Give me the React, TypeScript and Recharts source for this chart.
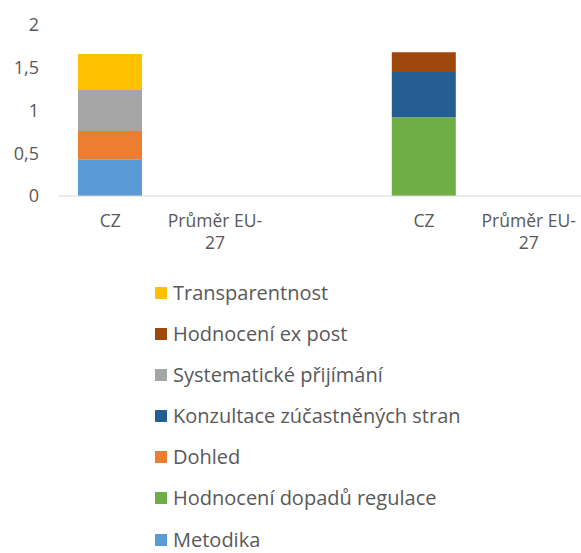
import { Bar, BarChart, Legend, XAxis, YAxis } from "recharts"

const categories = ["CZ", "Průměr EU-27", "", "CZ", "Průměr EU-27"]

const metodika = [0.43, null, null, null, null]
const hodnoceniDopadu = [null, null, null, 0.92, null]
const dohled = [0.33, null, null, null, null]
const konzultace = [null, null, null, 0.53, null]
const systematicke = [0.48, null, null, null, null]
const exPost = [null, null, null, 0.23, null]
const transparentnost = [0.42, null, null, null, null]

const yTicks = [0, 0.5, 1, 1.5, 2]

const series = [
  { key: "metodika", name: "Metodika", color: "#5B9BD5", values: metodika },
  { key: "hdr", name: "Hodnocení dopadů regulace", color: "#70AD47", values: hodnoceniDopadu },
  { key: "dohled", name: "Dohled", color: "#ED7D31", values: dohled },
  { key: "konzultace", name: "Konzultace zúčastněných stran", color: "#255E91", values: konzultace },
  { key: "systematicke", name: "Systematické přijímání", color: "#A5A5A5", values: systematicke },
  { key: "expost", name: "Hodnocení ex post", color: "#9E480E", values: exPost },
  { key: "transparentnost", name: "Transparentnost", color: "#FFC000", values: transparentnost },
]

const data = categories.map((name, i) => {
  const row: Record<string, string | number | null> = { name, idx: i }
  series.forEach((s) => {
    row[s.key] = s.values[i]
  })
  return row
})

const FONT = "'Open Sans', sans-serif"
const TEXT = "#595959"

function CategoryTick(props: any) {
  const { x, y, payload } = props
  const label: string = categories[payload.value] ?? ""
  const lines = label.startsWith("Průměr") ? ["Průměr EU-", "27"] : [label]
  return (
    <text x={x} y={y} textAnchor="middle" fill={TEXT} fontSize={17.5} fontFamily={FONT}>
      {lines.map((line, i) => (
        <tspan key={i} x={x} dy={i === 0 ? 23 : 22}>
          {line}
        </tspan>
      ))}
    </text>
  )
}

function LegendList() {
  const items = [...series].reverse()
  return (
    <div style={{ fontFamily: FONT, color: TEXT, fontSize: 20, lineHeight: "18px" }}>
      {items.map((s, i) => (
        <div
          key={s.key}
          style={{
            display: "flex",
            alignItems: "center",
            height: 18,
            marginBottom: i === items.length - 1 ? 0 : 23.1,
            whiteSpace: "nowrap",
          }}
        >
          <span
            style={{ width: 12, height: 12, background: s.color, display: "inline-block", marginRight: 6 }}
          />
          {s.name}
        </div>
      ))}
    </div>
  )
}

export default function App() {
  return (
    <div style={{ position: "absolute", top: 0, left: 0, background: "#fff" }}>
      <BarChart
        width={581}
        height={553}
        data={data}
        margin={{ top: 25, right: 0, left: 0, bottom: 297 }}
      >
        <XAxis
          dataKey="idx"
          type="category"
          tick={<CategoryTick />}
          tickLine={false}
          axisLine={{ stroke: "#D9D9D9", strokeWidth: 1 }}
          interval={0}
          height={60}
        />
        <YAxis
          domain={[0, 2]}
          ticks={yTicks}
          width={58}
          tickFormatter={(v: number) => String(v).replace(".", ",")}
          tick={{ fill: TEXT, fontSize: 18, fontFamily: FONT }}
          axisLine={false}
          tickLine={false}
          tickMargin={13}
        />
        {series.map((s) => (
          <Bar
            key={s.key}
            dataKey={s.key}
            name={s.name}
            stackId="a"
            fill={s.color}
            barSize={64}
            isAnimationActive={false}
          />
        ))}
        <Legend
          layout="vertical"
          align="center"
          verticalAlign="middle"
          content={() => <LegendList />}
          wrapperStyle={{ top: 284, left: 155, width: "auto" }}
        />
      </BarChart>
    </div>
  )
}
